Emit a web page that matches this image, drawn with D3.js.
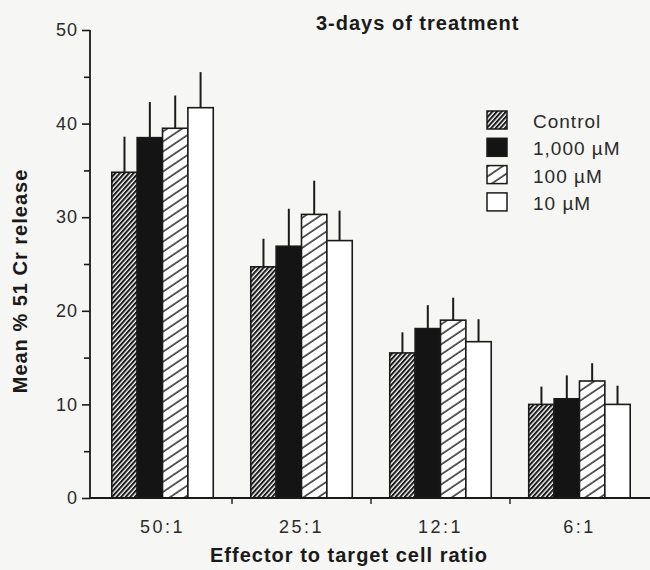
<!DOCTYPE html>
<html>
<head>
<meta charset="utf-8">
<script src="https://cdn.jsdelivr.net/npm/d3@7/dist/d3.min.js"></script>
<style>
  html, body { margin: 0; padding: 0; background: #f6f6f4; }
  svg { display: block; font-family: "Liberation Sans", Arial, Helvetica, sans-serif; }
</style>
</head>
<body>
<svg id="chart" width="650" height="570"></svg>
<script>
// Effector : target ratios on the x axis
const categories = ["50:1", "25:1", "12:1", "6:1"];
// Treatment groups (legend order)
const seriesNames = ["Control", "1,000 µM", "100 µM", "10 µM"];
// Mean % 51Cr release per treatment, one value per ratio
const controlMean = [34.8, 24.7, 15.5, 10.0];
const highMean    = [38.5, 26.9, 18.1, 10.6];
const midMean     = [39.5, 30.3, 19.0, 12.5];
const lowMean     = [41.7, 27.5, 16.7, 10.0];
// Upper error (SEM) per treatment
const controlErr = [3.8, 3.0, 2.2, 1.9];
const highErr    = [3.8, 4.0, 2.5, 2.5];
const midErr     = [3.5, 3.6, 2.4, 1.9];
const lowErr     = [3.8, 3.2, 2.4, 2.0];
// Y axis ticks
const yMajorTicks = [0, 10, 20, 30, 40, 50];
const yMinorTicks = [5, 15, 25, 35, 45];

const means = [controlMean, highMean, midMean, lowMean];
const errs = [controlErr, highErr, midErr, lowErr];
const fills = ["url(#hatchDense)", "#141414", "url(#hatchSparse)", "#ffffff"];

const svg = d3.select("#chart");
const ink = "#1a1a1a";

// Fill patterns
const defs = svg.append("defs");
const dense = defs.append("pattern")
  .attr("id", "hatchDense").attr("patternUnits", "userSpaceOnUse")
  .attr("width", 3.4).attr("height", 10)
  .attr("patternTransform", "rotate(42)");
dense.append("rect").attr("width", 3.4).attr("height", 10).attr("fill", "#fff");
dense.append("line").attr("x1", 1).attr("y1", 0).attr("x2", 1).attr("y2", 10)
  .attr("stroke", ink).attr("stroke-width", 2.1);

const sparse = defs.append("pattern")
  .attr("id", "hatchSparse").attr("patternUnits", "userSpaceOnUse")
  .attr("width", 8.3).attr("height", 10)
  .attr("patternTransform", "rotate(56)");
sparse.append("rect").attr("width", 8.3).attr("height", 10).attr("fill", "#fff");
sparse.append("line").attr("x1", 1).attr("y1", 0).attr("x2", 1).attr("y2", 10)
  .attr("stroke", ink).attr("stroke-width", 1.4);

// Scales
const y = d3.scaleLinear().domain([0, 50]).range([498, 30]);
const x = d3.scaleBand().domain(categories).range([84, 658])
  .paddingInner(0.27).paddingOuter(0.2);
const xs = d3.scaleBand().domain(seriesNames).range([0, x.bandwidth()]);
const axisX = 90;

// Bars
const rows = [];
seriesNames.forEach((s, si) => {
  categories.forEach((c, ci) => {
    rows.push({ s, si, c, v: means[si][ci], e: errs[si][ci] });
  });
});

const gBars = svg.append("g");
gBars.selectAll("line.err").data(rows).join("line")
  .attr("class", "err")
  .attr("x1", d => x(d.c) + xs(d.s) + xs.bandwidth() / 2)
  .attr("x2", d => x(d.c) + xs(d.s) + xs.bandwidth() / 2)
  .attr("y1", d => y(d.v))
  .attr("y2", d => y(d.v + d.e))
  .attr("stroke", ink).attr("stroke-width", 2);

gBars.selectAll("rect.bar").data(rows).join("rect")
  .attr("class", "bar")
  .attr("x", d => x(d.c) + xs(d.s))
  .attr("width", xs.bandwidth())
  .attr("y", d => y(d.v))
  .attr("height", d => y(0) - y(d.v))
  .attr("fill", d => fills[d.si])
  .attr("stroke", ink).attr("stroke-width", 1.6);

// Y axis
const gy = svg.append("g").attr("transform", `translate(${axisX},0)`);
gy.call(d3.axisLeft(y).tickValues(yMajorTicks).tickSize(8).tickPadding(4).tickFormat(d3.format("d")));
gy.append("g").call(d3.axisLeft(y).tickValues(yMinorTicks).tickSize(6).tickFormat(""))
  .select(".domain").remove();
gy.selectAll(".domain").attr("stroke", ink).attr("stroke-width", 1.8).attr("d", `M0,${y(50)}V${y(0)}`);
gy.selectAll(".tick line").attr("stroke", ink).attr("stroke-width", 1.6);
gy.selectAll(".tick text").attr("font-size", 18).attr("letter-spacing", 1).attr("fill", "#2a2a2a");

// X axis baseline with ticks between groups
const gx = svg.append("g").attr("transform", `translate(0,${y(0)})`);
gx.append("line").attr("x1", axisX).attr("x2", 650).attr("y1", 0).attr("y2", 0)
  .attr("stroke", ink).attr("stroke-width", 1.8);
const gap = x.step() * x.paddingInner();
gx.selectAll("line.sep").data(categories.slice(0, -1)).join("line")
  .attr("class", "sep")
  .attr("x1", d => x(d) + x.bandwidth() + gap / 2)
  .attr("x2", d => x(d) + x.bandwidth() + gap / 2)
  .attr("y1", 0).attr("y2", 6)
  .attr("stroke", ink).attr("stroke-width", 1.4);

// Category labels
const gxl = svg.append("g").attr("transform", `translate(0,${y(0)})`);
gxl.call(d3.axisBottom(x).tickSize(0).tickPadding(22));
gxl.select(".domain").remove();
gxl.selectAll(".tick text").attr("font-size", 18).attr("letter-spacing", 2.5).attr("fill", "#2a2a2a");

// Titles
svg.append("text").attr("x", 316).attr("y", 30)
  .attr("font-size", 20).attr("font-weight", "bold").attr("letter-spacing", 1)
  .attr("fill", ink).text("3-days of treatment");
svg.append("text").attr("x", 349).attr("y", 562).attr("text-anchor", "middle")
  .attr("font-size", 20).attr("font-weight", "bold").attr("letter-spacing", 1)
  .attr("fill", ink).text("Effector to target cell ratio");
svg.append("text")
  .attr("transform", `translate(27,${281}) rotate(-90)`)
  .attr("text-anchor", "middle")
  .attr("font-size", 20).attr("font-weight", "bold").attr("letter-spacing", 1)
  .attr("fill", ink).text("Mean % 51 Cr release");

// Legend
const legend = svg.append("g").attr("transform", "translate(487,111)");
const li = legend.selectAll("g").data(seriesNames).join("g")
  .attr("transform", (d, i) => `translate(0,${i * 27.3})`);
li.append("rect").attr("width", 20).attr("height", 18)
  .attr("fill", (d, i) => fills[i]).attr("stroke", ink).attr("stroke-width", 1.5);
li.append("text").attr("x", 46).attr("y", 17)
  .attr("font-size", 19).attr("letter-spacing", 1).attr("fill", "#2a2a2a")
  .text(d => d);
</script>
</body>
</html>
